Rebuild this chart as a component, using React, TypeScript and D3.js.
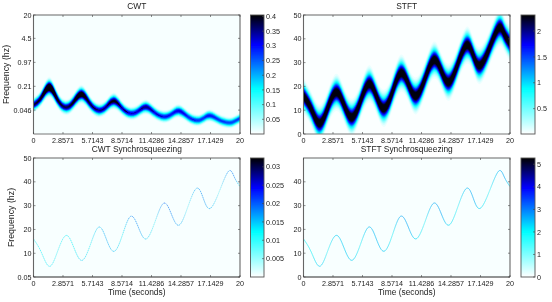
import React from 'react';
import * as d3 from 'd3';

// knots, shared time base (seconds)
const knotTimes = [0, 0.75, 1.55, 2.35, 3.16, 3.9, 4.68, 5.5, 6.32, 7.05, 7.8, 8.6, 9.4, 10.15, 10.9, 11.75, 12.6, 13.35, 14.1, 14.95, 15.8, 16.45, 17.1, 18, 18.9, 19.45, 20];

const ridgeFreq = [16, 10.5, 4.5, 11, 17.5, 12.5, 7, 13.5, 21, 16, 10.8, 17.5, 25.5, 21, 16, 23, 31, 26.5, 21.8, 29.5, 37.3, 33, 28.8, 36, 44.5, 42, 38];
const stftAmp = [2.6, 2.65, 2.6, 2.65, 2.6, 2.65, 2.6, 2.65, 2.6, 2.65, 2.6, 2.65, 2.6, 2.65, 2.6, 2.65, 2.6, 2.65, 2.6, 2.65, 2.6, 2.65, 2.6, 2.65, 2.6, 2.65, 2.6];
const stftSpread = [2.8, 2.7, 2.9, 2.7, 2.9, 2.7, 2.9, 2.7, 2.9, 2.7, 2.9, 2.7, 2.9, 2.7, 2.9, 2.7, 2.9, 2.7, 2.9, 2.7, 2.9, 2.7, 2.9, 2.7, 2.9, 2.7, 2.8];

const cwtFreq = [0.0638, 0.102, 0.197, 0.0877, 0.055, 0.0789, 0.126, 0.0679, 0.0454, 0.0573, 0.0822, 0.0515, 0.0374, 0.0435, 0.0561, 0.0391, 0.0303, 0.0352, 0.0435, 0.0303, 0.0239, 0.0272, 0.0323, 0.0245, 0.0206, 0.0224, 0.0272];
const cwtAmp = [0.38, 0.42, 0.56, 0.42, 0.38, 0.42, 0.48, 0.38, 0.35, 0.36, 0.41, 0.34, 0.32, 0.33, 0.36, 0.31, 0.3, 0.3, 0.32, 0.29, 0.28, 0.28, 0.3, 0.28, 0.27, 0.27, 0.28];
const cwtSpread = [0.085, 0.09, 0.105, 0.09, 0.085, 0.09, 0.098, 0.085, 0.08, 0.08, 0.09, 0.08, 0.075, 0.075, 0.08, 0.075, 0.072, 0.072, 0.075, 0.07, 0.068, 0.068, 0.07, 0.068, 0.065, 0.065, 0.065];

// colour of the synchrosqueezed curves along time, in colourbar units
const cwtSsShade = [0.011, 0.011, 0.013, 0.008, 0.012, 0.012, 0.015, 0.009, 0.016, 0.018, 0.016, 0.01, 0.02, 0.02, 0.015, 0.006, 0.022, 0.021, 0.018, 0.004, 0.018, 0.02, 0.017, 0.004, 0.02, 0.021, 0.012];
const stftSsShade = [1.8, 1.7, 2.4, 1.2, 2.4, 2.4, 2.4, 1.4, 2.6, 2.6, 2.4, 1.4, 2.8, 2.8, 2.2, 1.2, 2.8, 2.8, 2.2, 1.2, 2.6, 2.8, 2.2, 1.2, 2.6, 2.8, 2.2];

const timeTicks = [0, 2.8571, 5.7143, 8.5714, 11.4286, 14.2857, 17.1429, 20];
const cwtFreqTicks = [0.046, 0.21, 0.97, 4.5, 20];
const stftFreqTicks = [0, 10, 20, 30, 40, 50];
const cwtSsFreqTicks = [0.05, 10, 20, 30, 40, 50];
const stftSsFreqTicks = [0, 10, 20, 30, 40];

const cwtBarTicks = [0.05, 0.1, 0.15, 0.2, 0.25, 0.3, 0.35, 0.4];
const stftBarTicks = [0.5, 1, 1.5, 2];
const cwtSsBarTicks = [0.005, 0.01, 0.015, 0.02, 0.025, 0.03];
const stftSsBarTicks = [0, 1, 2, 3, 4, 5];

// white -> cyan -> blue -> black
const colormap = d3.scaleLinear<string>()
  .domain([0, 0.38, 0.75, 1])
  .range(['#ffffff', '#00ffff', '#0000ff', '#000000'])
  .clamp(true);

const levels = d3.range(0.03, 1.001, 0.03);
const font = 'Liberation Sans, Arial, sans-serif';
const textColor = '#222';
const tickSize = 7.2;
const labelSize = 8.4;

const left = { x0: 33.5, x1: 240, bar0: 250.5, bar1: 264 };
const right = { x0: 303.5, x1: 510, bar0: 521, bar1: 535 };
const top = { y0: 15, y1: 134 };
const bottom = { y0: 158, y1: 277 };

function Colorbar({ col, row, domain, ticks, id }: any) {
  const y = d3.scaleLinear().domain(domain).range([row.y1, row.y0]);
  return (
    <g>
      <defs>
        <linearGradient id={id} x1="0" y1="1" x2="0" y2="0">
          {[0, 0.38, 0.56, 0.75, 0.88, 1].map((s) => (
            <stop key={s} offset={s} stopColor={colormap(s)} />
          ))}
        </linearGradient>
      </defs>
      <rect x={col.bar0} y={row.y0} width={col.bar1 - col.bar0} height={row.y1 - row.y0} fill={`url(#${id})`} stroke="#555" strokeWidth={0.9} />
      {ticks.map((t: number) => (
        <g key={t}>
          <line x1={col.bar1} x2={col.bar1 - 2} y1={y(t)} y2={y(t)} stroke="#444" strokeWidth={0.6} />
          <text x={col.bar1 + 2} y={y(t) + 2.6} fontSize={tickSize} fontFamily={font} fill={textColor}>{t}</text>
        </g>
      ))}
    </g>
  );
}

function Frame({ col, row, x, y, xTicks, yTicks, title, xLabel, yLabel, yLabelX, edge, children, id }: any) {
  const w = col.x1 - col.x0;
  const h = row.y1 - row.y0;
  return (
    <g>
      <clipPath id={id}><rect x={col.x0} y={row.y0} width={w} height={h} /></clipPath>
      <g clipPath={`url(#${id})`}>{children}</g>
      <path d={`M${col.x0},${row.y1}V${row.y0}H${col.x1}V${row.y1}`} fill="none" stroke="#666" strokeWidth={1.1} />
      <line x1={col.x0} x2={col.x1} y1={row.y1} y2={row.y1} stroke={edge} strokeWidth={0.9} />
      {xTicks.map((t: number) => (
        <g key={t}>
          <line x1={x(t)} x2={x(t)} y1={row.y1} y2={row.y1 - 2} stroke="#444" strokeWidth={0.6} />
          <line x1={x(t)} x2={x(t)} y1={row.y0} y2={row.y0 + 2} stroke="#444" strokeWidth={0.6} />
          <text x={x(t)} y={row.y1 + 9.2} textAnchor="middle" fontSize={tickSize} fontFamily={font} fill={textColor}>{t}</text>
        </g>
      ))}
      {yTicks.map((t: number) => (
        <g key={t}>
          <line x1={col.x0} x2={col.x0 + 2} y1={y(t)} y2={y(t)} stroke="#444" strokeWidth={0.6} />
          <line x1={col.x1} x2={col.x1 - 2} y1={y(t)} y2={y(t)} stroke="#444" strokeWidth={0.6} />
          <text x={col.x0 - 2} y={y(t) + 2.6} textAnchor="end" fontSize={tickSize} fontFamily={font} fill={textColor}>{t}</text>
        </g>
      ))}
      <text x={(col.x0 + col.x1) / 2} y={row.y0 - 6} textAnchor="middle" fontSize={labelSize} fontFamily={font} fill={textColor}>{title}</text>
      {xLabel && <text x={(col.x0 + col.x1) / 2} y={row.y1 + 18} textAnchor="middle" fontSize={labelSize} fontFamily={font} fill={textColor}>{xLabel}</text>}
      {yLabel && <text transform={`translate(${yLabelX},${(row.y0 + row.y1) / 2}) rotate(-90)`} textAnchor="middle" fontSize={8.8} fontFamily={font} fill={textColor}>{yLabel}</text>}
    </g>
  );
}

// stacked iso-level bands around the ridge; bell profile from amp and spread per knot
function Ridge({ freq, amp, spread, max, x, y, toPx }: any) {
  return (
    <g>
      {levels.map((l) => {
        const v = l * max;
        const half = (i: number) => (amp[i] <= v ? 0 : toPx(spread[i]) * Math.sqrt(2 * Math.log(amp[i] / v)));
        const area = d3.area<number>()
          .x((t) => x(t))
          .y0((t, i) => y(freq[i]) - half(i))
          .y1((t, i) => y(freq[i]) + half(i))
          .curve(d3.curveNatural);
        return <path key={l} d={area(knotTimes) as string} fill={colormap(l)} />;
      })}
    </g>
  );
}

function SsLine({ shade, max, x, y, id, col, dash, under, opacity, width }: any) {
  const line = d3.line<number>()
    .x((t) => x(t))
    .y((t, i) => y(ridgeFreq[i]))
    .curve(d3.curveNatural);
  const d = line(knotTimes) as string;
  return (
    <g>
      <defs>
        <linearGradient id={id} gradientUnits="userSpaceOnUse" x1={col.x0} x2={col.x1} y1={0} y2={0}>
          {knotTimes.map((t, i) => (
            <stop key={t} offset={t / 20} stopColor={colormap(shade[i] / max)} />
          ))}
        </linearGradient>
      </defs>
      <path d={d} fill="none" stroke={under} strokeWidth={width} />
      <path d={d} fill="none" stroke={`url(#${id})`} strokeWidth={width} strokeOpacity={opacity} strokeDasharray={dash} />
    </g>
  );
}

export default function App() {
  const xL = d3.scaleLinear().domain([0, 20]).range([left.x0, left.x1]);
  const xR = d3.scaleLinear().domain([0, 20]).range([right.x0, right.x1]);
  const yCwt = d3.scaleLog().domain([0.01, 20]).range([top.y1, top.y0]);
  const yStft = d3.scaleLinear().domain([0, 50]).range([top.y1, top.y0]);
  const yCwtSs = d3.scaleLinear().domain([0.05, 50]).range([bottom.y1, bottom.y0]);
  const yStftSs = d3.scaleLinear().domain([0, 50]).range([bottom.y1, bottom.y0]);
  const decadePx = (top.y1 - top.y0) / Math.log10(2000);
  const hzPx = (top.y1 - top.y0) / 50;

  return (
    <svg width={552} height={302} viewBox="0 0 552 302" style={{ position: 'absolute', left: 0, top: 0, background: '#fff' }}>
      <defs>
        <filter id="soft" x="0" y="0" width="100%" height="100%">
          <feGaussianBlur stdDeviation={0.35} />
        </filter>
      </defs>
      <g filter="url(#soft)">
        <rect width={552} height={302} fill="#fff" />
        <Frame id="p1" col={left} row={top} x={xL} y={yCwt} xTicks={timeTicks} yTicks={cwtFreqTicks} title="CWT" yLabel="Frequency (hz)" yLabelX={8.5} edge="#666">
          <rect x={left.x0} y={top.y0} width={left.x1 - left.x0} height={top.y1 - top.y0} fill="#f7ffff" />
          <Ridge freq={cwtFreq} amp={cwtAmp} spread={cwtSpread} max={0.405} x={xL} y={yCwt} toPx={(s: number) => s * decadePx} />
        </Frame>
        <Colorbar id="b1" col={left} row={top} domain={[0, 0.405]} ticks={cwtBarTicks} />

        <Frame id="p2" col={right} row={top} x={xR} y={yStft} xTicks={timeTicks} yTicks={stftFreqTicks} title="STFT" edge="#666">
          <rect x={right.x0} y={top.y0} width={right.x1 - right.x0} height={top.y1 - top.y0} fill="#fbffff" />
          <Ridge freq={ridgeFreq} amp={stftAmp} spread={stftSpread} max={2.31} x={xR} y={yStft} toPx={(s: number) => s * hzPx} />
        </Frame>
        <Colorbar id="b2" col={right} row={top} domain={[0.01, 2.31]} ticks={stftBarTicks} />

        <Frame id="p3" col={left} row={bottom} x={xL} y={yCwtSs} xTicks={timeTicks} yTicks={cwtSsFreqTicks} title="CWT Synchrosqueezing" xLabel="Time (seconds)" yLabel="Frequency (hz)" yLabelX={13.5} edge="#111">
          <rect x={left.x0} y={bottom.y0} width={left.x1 - left.x0} height={bottom.y1 - bottom.y0} fill="#f8ffff" />
          <SsLine id="s3" col={left} shade={cwtSsShade} max={0.0324} x={xL} y={yCwtSs} dash="1 1.2" under="#b5f2f7" opacity={0.75} width={0.75} />
        </Frame>
        <Colorbar id="b3" col={left} row={bottom} domain={[0, 0.0324]} ticks={cwtSsBarTicks} />

        <Frame id="p4" col={right} row={bottom} x={xR} y={yStftSs} xTicks={timeTicks} yTicks={stftSsFreqTicks} title="STFT Synchrosqueezing" xLabel="Time (seconds)" edge="#111">
          <rect x={right.x0} y={bottom.y0} width={right.x1 - right.x0} height={bottom.y1 - bottom.y0} fill="#f8ffff" />
          <SsLine id="s4" col={right} shade={stftSsShade} max={5.28} x={xR} y={yStftSs} under="#a8ecf3" opacity={0.6} width={0.75} />
        </Frame>
        <Colorbar id="b4" col={right} row={bottom} domain={[0, 5.28]} ticks={stftSsBarTicks} />
      </g>
    </svg>
  );
}
